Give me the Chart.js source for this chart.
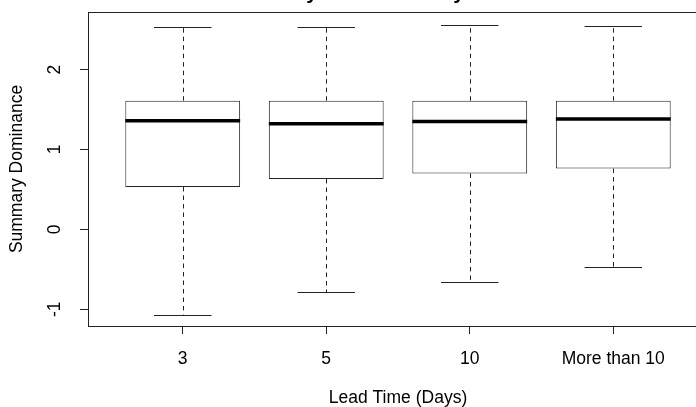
<!DOCTYPE html>
<html>

<head>
    <meta charset="UTF-8">
    <title>Summary Dominance by Lead Time</title>
    <style>
        html, body {
            margin: 0;
            padding: 0;
            overflow: hidden;
            background: #fff;
        }

        .chart-box {
            width: 696px;
            height: 407px;
            overflow: hidden;
        }
    </style>
</head>

<body>
    <div class="chart-box">
        <canvas id="boxChart" width="720" height="407"></canvas>
    </div>
    <script src="https://cdn.jsdelivr.net/npm/chart.js"></script>
    <script>
        const categories = ["3", "5", "10", "More than 10"];
        const lowerWhisker = [-1.07, -0.79, -0.66, -0.47];
        const lowerQuartile = [0.53, 0.63, 0.70, 0.76];
        const medians = [1.36, 1.32, 1.35, 1.38];
        const upperQuartile = [1.61, 1.61, 1.61, 1.61];
        const upperWhisker = [2.53, 2.53, 2.56, 2.55];
        const yTicks = [-1, 0, 1, 2];

        const chartTitle = "Summary Dominance by Lead Time";
        const xTitle = "Lead Time (Days)";
        const yTitle = "Summary Dominance";

        const fontFamily = "'Liberation Sans', Arial, Helvetica, sans-serif";
        const lineColor = "#222";

        Chart.defaults.font.family = fontFamily;
        Chart.defaults.font.size = 17.5;
        Chart.defaults.color = "#000";

        // whiskers, staples, medians, frame, rotated y labels and clipped main title
        const boxplotExtras = {
            id: "boxplotExtras",
            afterDatasetsDraw(chart) {
                const ctx = chart.ctx;
                const y = chart.scales.y;
                const bars = chart.getDatasetMeta(0).data;
                ctx.save();
                ctx.strokeStyle = lineColor;
                bars.forEach((bar, i) => {
                    const { x, width } = bar.getProps(["x", "width"], true);
                    const cx = Math.round(x) + 0.5;
                    const capHalf = width / 4;

                    // dashed whiskers
                    ctx.lineWidth = 1;
                    ctx.setLineDash([4.5, 4]);
                    ctx.beginPath();
                    ctx.moveTo(cx, y.getPixelForValue(upperQuartile[i]));
                    ctx.lineTo(cx, y.getPixelForValue(upperWhisker[i]));
                    ctx.moveTo(cx, y.getPixelForValue(lowerQuartile[i]));
                    ctx.lineTo(cx, y.getPixelForValue(lowerWhisker[i]));
                    ctx.stroke();

                    // staples
                    ctx.setLineDash([]);
                    ctx.beginPath();
                    const top = Math.round(y.getPixelForValue(upperWhisker[i])) + 0.5;
                    const bottom = Math.round(y.getPixelForValue(lowerWhisker[i])) + 0.5;
                    ctx.moveTo(x - capHalf, top);
                    ctx.lineTo(x + capHalf, top);
                    ctx.moveTo(x - capHalf, bottom);
                    ctx.lineTo(x + capHalf, bottom);
                    ctx.stroke();

                    // median
                    ctx.strokeStyle = "#000";
                    ctx.lineWidth = 3.5;
                    ctx.beginPath();
                    const my = y.getPixelForValue(medians[i]);
                    ctx.moveTo(x - width / 2, my);
                    ctx.lineTo(x + width / 2, my);
                    ctx.stroke();
                    ctx.strokeStyle = lineColor;
                });

                // plot frame
                const area = chart.chartArea;
                ctx.lineWidth = 1;
                ctx.strokeRect(Math.round(area.left) + 0.5, Math.round(area.top) + 0.5,
                    Math.round(area.right - area.left), Math.round(area.bottom - area.top));

                // y tick labels, rotated like R's las = 0
                ctx.fillStyle = "#000";
                ctx.font = "17.5px " + fontFamily;
                ctx.textAlign = "center";
                ctx.textBaseline = "middle";
                y.ticks.forEach((t) => {
                    ctx.save();
                    ctx.translate(55, y.getPixelForValue(t.value));
                    ctx.rotate(-Math.PI / 2);
                    ctx.fillText(String(t.value), 0, 0);
                    ctx.restore();
                });

                // main title, mostly above the visible area
                ctx.font = "bold 20.7px " + fontFamily;
                ctx.textBaseline = "alphabetic";
                ctx.fillText(chartTitle, (area.left + area.right) / 2, -1.5);
                ctx.restore();
            }
        };

        new Chart(document.getElementById("boxChart"), {
            type: "bar",
            data: {
                datasets: [{
                    data: categories.map((c, i) => ({ x: i + 1, y: [lowerQuartile[i], upperQuartile[i]] })),
                    backgroundColor: "#fff",
                    borderColor: lineColor,
                    borderWidth: 1,
                    borderSkipped: false,
                    barPercentage: 1,
                    categoryPercentage: 0.8
                }]
            },
            options: {
                responsive: false,
                animation: false,
                layout: {
                    padding: { top: 12, right: 12, bottom: 0, left: 0 }
                },
                plugins: {
                    legend: { display: false },
                    tooltip: { enabled: false }
                },
                scales: {
                    x: {
                        type: "linear",
                        min: 0.34,
                        max: 4.66,
                        offset: false,
                        afterBuildTicks: (scale) => {
                            scale.ticks = categories.map((c, i) => ({ value: i + 1 }));
                        },
                        ticks: {
                            autoSkip: false,
                            maxRotation: 0,
                            padding: 15,
                            callback: (v) => categories[v - 1]
                        },
                        grid: {
                            offset: false,
                            drawOnChartArea: false,
                            drawTicks: true,
                            tickLength: 8,
                            tickColor: lineColor
                        },
                        border: { display: true, color: lineColor },
                        title: {
                            display: true,
                            text: xTitle,
                            padding: { top: 3, bottom: -2 }
                        }
                    },
                    y: {
                        min: -1.21,
                        max: 2.72,
                        afterBuildTicks: (scale) => {
                            scale.ticks = yTicks.map((v) => ({ value: v }));
                        },
                        ticks: { display: false },
                        grid: {
                            drawOnChartArea: false,
                            drawTicks: true,
                            tickLength: 8,
                            tickColor: lineColor
                        },
                        border: { display: true, color: lineColor },
                        title: {
                            display: true,
                            text: yTitle,
                            padding: { top: 6.5, bottom: 52.5 }
                        }
                    }
                }
            },
            plugins: [boxplotExtras]
        });
    </script>
</body>

</html>
